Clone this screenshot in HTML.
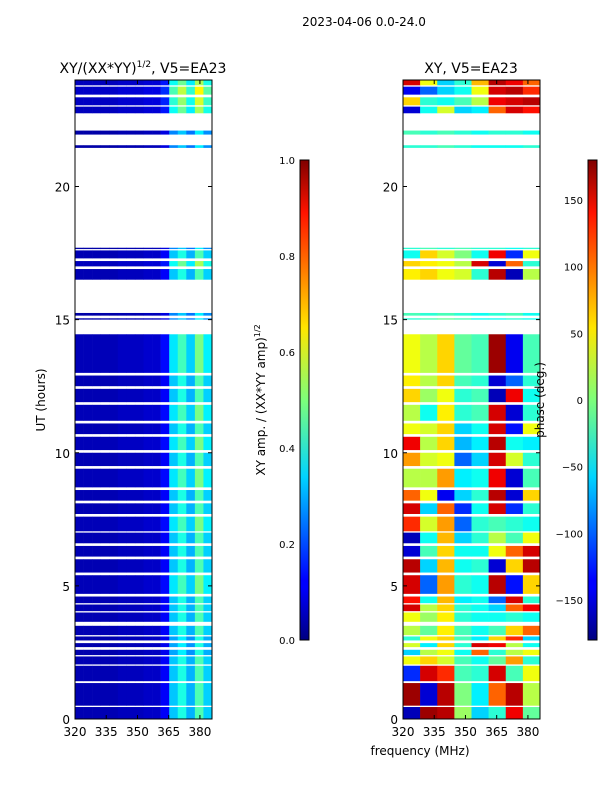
<!DOCTYPE html>
<html><head><meta charset="utf-8">
<style>
body{margin:0;background:#fff;font-family:"DejaVu Sans","Liberation Sans",sans-serif;}
svg text{font-family:"DejaVu Sans","Liberation Sans",sans-serif;fill:#000;}
</style></head>
<body>
<svg id="fig" width="600" height="800" viewBox="0 0 600 800" xmlns="http://www.w3.org/2000/svg">
<defs>
<linearGradient id="jet" x1="0" y1="1" x2="0" y2="0">
<stop offset="0" stop-color="#000080"/><stop offset="0.11" stop-color="#0000ff"/>
<stop offset="0.125" stop-color="#0000ff"/><stop offset="0.34" stop-color="#00d4ff"/>
<stop offset="0.5" stop-color="#7dff7a"/><stop offset="0.65" stop-color="#ffe600"/>
<stop offset="0.89" stop-color="#ff1300"/><stop offset="1" stop-color="#800000"/>
</linearGradient>
</defs>
<text x="364" y="26" font-size="12" text-anchor="middle">2023-04-06 0.0-24.0</text>
<text x="143" y="73" font-size="14" text-anchor="middle">XY/(XX*YY)<tspan font-size="9" dy="-6">1/2</tspan><tspan dy="6">, V5=EA23</tspan></text>
<text x="471" y="73" font-size="14" text-anchor="middle">XY, V5=EA23</text>
<text transform="translate(45,400) rotate(-90)" font-size="12" text-anchor="middle">UT (hours)</text>
<text x="420" y="755" font-size="12" text-anchor="middle">frequency (MHz)</text>
<text transform="translate(265,400) rotate(-90)" font-size="12" text-anchor="middle">XY amp. / (XX*YY amp)<tspan font-size="8" dy="-5">1/2</tspan></text>
<g id="left"></g>
<g id="right"></g>
<g id="axes"></g>
<text transform="translate(544,400) rotate(-90)" font-size="12" text-anchor="middle">phase (deg.)</text>
<rect x="300" y="160" width="9" height="480" fill="url(#jet)" stroke="#000" stroke-width="1"/>
<rect x="588" y="160" width="9" height="480" fill="url(#jet)" stroke="#000" stroke-width="1"/>
</svg>
<script>
var segStart=[0,0.5,1.42,2.05,2.4,2.7,2.95,3.15,3.65,4.05,4.35,4.7,5.5,6.1,6.6,7.05,7.7,8.2,8.7,9.5,10.1,10.7,11.2,11.9,12.5,13.0,15.0,15.15,16.5,17.0,17.3,17.65,21.45,21.95,22.75,23.05,23.45,23.8];
var segEnd=[0.45,1.35,2.0,2.35,2.6,2.85,3.1,3.5,4.0,4.3,4.6,5.4,6.0,6.5,7.0,7.6,8.1,8.6,9.4,10.0,10.6,11.1,11.8,12.4,12.9,14.45,15.05,15.25,16.9,17.2,17.6,17.7,21.55,22.1,23.0,23.35,23.75,24];
var ampCols=[0.05,0.05,0.05,0.05,0.05,0.06,0.06,0.06,0.07,0.07,0.12,0.32,0.4,0.3,0.45,0.33];
var ampScale=[1,1,1,1,0.9,0.9,0.9,1,1,1,1,1.1,1,1,1,1.1,1,1,1.1,1,1.1,1,1.1,1,1,1.1,0.8,0.8,1,1.2,1,0.8,0.8,0.8,1.2,1.3,1.4,1.2];
var phase=[
[-160,170,160,10,-60,-30,140,-10],[170,-150,160,0,-50,100,160,20],[-120,150,120,-20,-30,150,-20,40],
[40,60,30,-20,-40,-10,80,-30],[-60,20,40,-40,100,-30,20,40],[30,-50,60,-30,150,140,20,-40],
[-30,40,60,-20,-50,60,120,-60],[20,-10,50,-20,-40,-20,60,100],[40,10,50,-30,-40,-40,-30,-40],
[150,20,60,-30,-40,-60,100,140],[130,-40,70,-50,-40,-100,150,-30],[150,-100,80,-30,-40,160,-130,60],
[160,-60,70,-40,-30,-150,60,160],[-150,-20,60,-40,-40,40,100,150],[-160,-40,70,-60,-30,20,-20,40],
[120,30,80,-100,-30,-20,-30,-40],[150,-60,100,-120,-40,150,-120,-30],[100,40,-140,-60,-30,160,-150,60],
[20,20,80,-50,-40,140,-150,-20],[80,30,40,-100,-60,150,30,-30],[140,20,60,-70,-50,160,-40,-50],
[40,30,60,-60,-40,150,-130,40],[20,-40,50,-30,-20,150,-150,-30],[60,10,40,-30,-20,-160,140,-40],
[50,20,60,-20,-30,-150,-100,-30],[40,20,60,-10,-20,170,-140,-20],[-30,-20,-10,-20,-40,-40,-30,-40],
[-20,-30,-20,-30,-40,-30,-20,-40],[50,60,40,30,-30,160,-160,20],[60,50,40,20,150,-150,100,-30],
[-40,60,30,0,-40,140,-120,40],[-30,-20,-30,-20,-30,-30,-40,-30],[-30,-30,-20,-30,-40,-40,-40,-30],
[-20,-30,-20,-30,-40,-30,-30,-40],[-150,-40,30,-60,-50,100,150,130],[60,-30,-40,-20,20,140,150,160],
[-140,-100,-60,-40,40,150,160,120],[150,40,-60,-30,70,160,140,100]];
var xTicks=[320,335,350,365,380];
var yTicks=[0,5,10,15,20];
var ampTicks=[0.0,0.2,0.4,0.6,0.8,1.0];
var phTicks=[-150,-100,-50,0,50,100,150];

(function(){
const NS="http://www.w3.org/2000/svg";
const yTop=80,bot=719,fmin=320,fmax=385.8,w=137;
const yS=h=>bot-(bot-yTop)*h/24;
const xS=(f,x0)=>x0+w*(f-fmin)/(fmax-fmin);
function cl(v){return Math.max(0,Math.min(1,v));}
function jet(t){t=cl(t);const r=cl(1.5-Math.abs(4*t-3)),g=cl(1.5-Math.abs(4*t-2)),b=cl(1.5-Math.abs(4*t-1));
return `rgb(${Math.round(r*255)},${Math.round(g*255)},${Math.round(b*255)})`;}
function mk(tag,a,p){const e=document.createElementNS(NS,tag);for(const k in a)e.setAttribute(k,a[k]);p.appendChild(e);return e;}
const L=document.getElementById('left'),R=document.getElementById('right'),A=document.getElementById('axes');
for(let s=0;s<segStart.length;s++){
  const y1=yS(segEnd[s]),y0=yS(segStart[s]);
  for(let c=0;c<ampCols.length;c++){
    const fw=(385.8-320)/ampCols.length,f0=320+c*fw;
    const r=mk('rect',{x:xS(f0,75),y:y1,width:xS(f0+fw,75)-xS(f0,75)+0.3,height:y0-y1,fill:jet(ampCols[c]*ampScale[s])},L);
    
    
  }
  if(s<phase.length) for(let c=0;c<phase[s].length;c++){
    const fw=(385.8-320)/phase[s].length,f0=320+c*fw;
    const r=mk('rect',{x:xS(f0,403),y:y1,width:xS(f0+fw,403)-xS(f0,403)+0.3,height:y0-y1,fill:jet((phase[s][c]+180)/360)},R);
    
    
  }
}
[75,403].forEach((x0,i)=>{
  const fr=mk('rect',{x:x0,y:yTop,width:w,height:bot-yTop,fill:'none',stroke:'#000','stroke-width':1},A);
  
  
  xTicks.forEach(v=>{const x=xS(v,x0);
    mk('line',{x1:x,x2:x,y1:bot,y2:bot-4,stroke:'#000'},A);mk('line',{x1:x,x2:x,y1:yTop,y2:yTop+4,stroke:'#000'},A);
    const t=mk('text',{x:x,y:bot+17,'font-size':12,'text-anchor':'middle'},A);t.textContent=v;
    
    });
  yTicks.forEach(v=>{const y=yS(v);
    mk('line',{x1:x0,x2:x0+4,y1:y,y2:y,stroke:'#000'},A);mk('line',{x1:x0+w,x2:x0+w-4,y1:y,y2:y,stroke:'#000'},A);
    const t=mk('text',{x:x0-5,y:y+5,'font-size':12,'text-anchor':'end'},A);t.textContent=v;
    
    });
});
ampTicks.forEach(v=>{const y=640-480*v;
  mk('line',{x1:300,x2:303,y1:y,y2:y,stroke:'#000'},A);mk('line',{x1:309,x2:306,y1:y,y2:y,stroke:'#000'},A);
  const t=mk('text',{x:295,y:y+4,'font-size':10,'text-anchor':'end'},A);t.textContent=v.toFixed(1);
  
  });
phTicks.forEach(v=>{const y=400-v*480/360;
  mk('line',{x1:588,x2:591,y1:y,y2:y,stroke:'#000'},A);mk('line',{x1:597,x2:594,y1:y,y2:y,stroke:'#000'},A);
  const t=mk('text',{x:583,y:y+4,'font-size':10,'text-anchor':'end'},A);t.textContent=v<0?'\u2212'+(-v):v;
  
  });
})();
</script>
</body></html>
